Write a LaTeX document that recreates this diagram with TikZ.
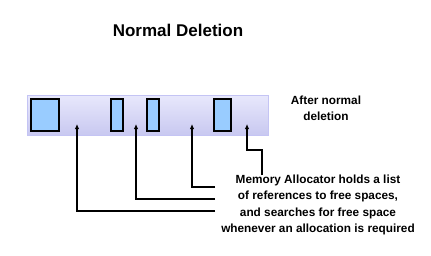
\documentclass[tikz,border=0pt]{standalone}
\usepackage{fontspec}
\setmainfont{Liberation Sans}
\usetikzlibrary{arrows.meta}
\definecolor{barTop}{HTML}{E8E8FC}
\definecolor{barBot}{HTML}{C8C8F0}
\definecolor{barEdge}{HTML}{C4C4F4}
\definecolor{blockFill}{HTML}{99CCFF}
\begin{document}
\begin{tikzpicture}[x=1pt,y=-1pt,
  bar/.style={draw=barEdge,line width=0.8pt,top color=barTop,bottom color=barBot,minimum width=241pt,minimum height=40pt,inner sep=0pt},
  block/.style={draw=black,line width=1.3pt,fill=blockFill,minimum height=32pt,inner sep=0pt},
  arr/.style={line width=1.1pt,-{Latex[length=5pt,width=4.5pt]}},
  lbl/.style={font=\fontsize{11.8}{16.4}\selectfont\bfseries,align=center,inner sep=0pt}]
\useasboundingbox (0,0) rectangle (431,255);
\node[font=\fontsize{17}{20}\selectfont\bfseries] (title) at (178,30) {Normal Deletion};
\node[bar] (bar) at (147.5,115) {};
\node[block,minimum width=28pt] (b1) at (45,115) {};
\node[block,minimum width=12pt] (b2) at (117,115) {};
\node[block,minimum width=12pt] (b3) at (153,115) {};
\node[block,minimum width=17pt] (b4) at (222.5,115) {};
\node[lbl] (after) at (326,108.5) {After normal\\deletion};
\node[lbl] (note) at (318,205) {Memory Allocator holds a list\\of references to free spaces,\\and searches for free space\\whenever an allocation is required};
\coordinate (t1) at (77,124);
\coordinate (t2) at (136,124);
\coordinate (t3) at (192,124);
\coordinate (t4) at (247,124);
\coordinate (s1) at (215,211);
\coordinate (s2) at (215,199);
\coordinate (s3) at (215,187);
\coordinate (s4) at (262,175);
\coordinate (k4) at (247,150);
\draw[arr] (s1) -| (t1);
\draw[arr] (s2) -| (t2);
\draw[arr] (s3) -| (t3);
\draw[arr] (s4) |- (k4) -- (t4);
\end{tikzpicture}
\end{document}
